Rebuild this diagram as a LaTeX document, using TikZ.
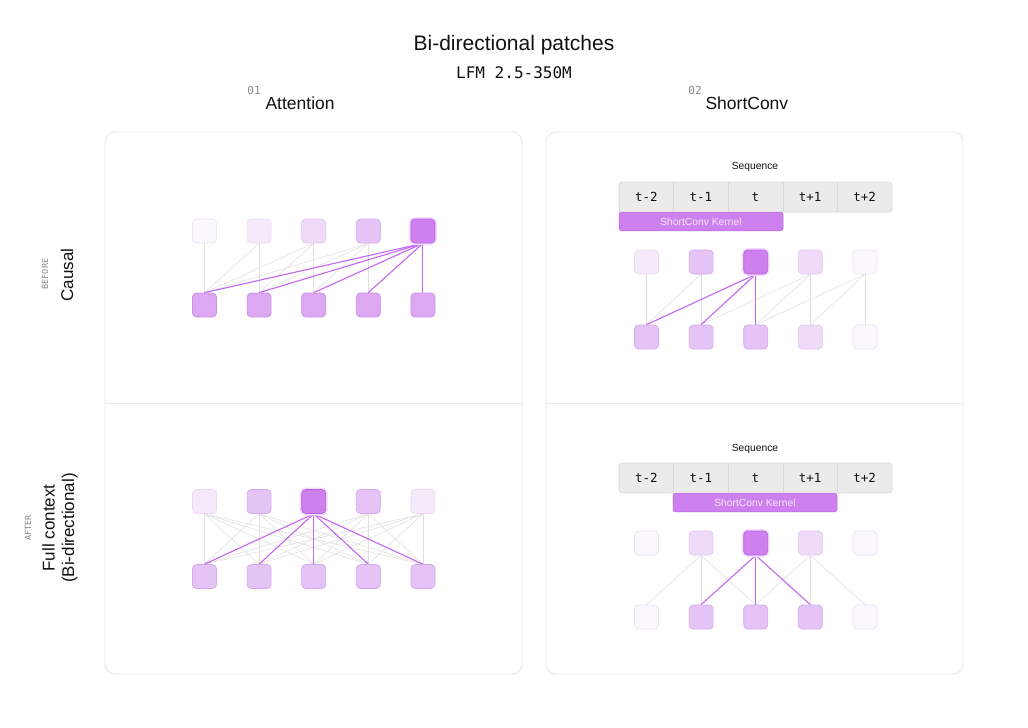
\documentclass[tikz,border=0pt]{standalone}
\usepackage{fontspec}
\setmainfont{Liberation Sans}
\setmonofont{DejaVu Sans Mono}
\usetikzlibrary{backgrounds}
\definecolor{panelgray}{HTML}{E6E6E6}
\definecolor{divgray}{HTML}{EBEBEB}
\definecolor{cA}{HTML}{FAF7FD}\definecolor{cAb}{HTML}{ECE4F2}
\definecolor{cB}{HTML}{F6EAFA}\definecolor{cBb}{HTML}{EBD9F3}
\definecolor{cC}{HTML}{F0DAFA}\definecolor{cCb}{HTML}{E2C6F0}
\definecolor{cD}{HTML}{E5C3F5}\definecolor{cDb}{HTML}{D5A8EE}
\definecolor{cE}{HTML}{DCA8F2}\definecolor{cEb}{HTML}{C990E8}
\definecolor{cH}{HTML}{CD80EE}\definecolor{cHb}{HTML}{B862E2}
\definecolor{glow}{HTML}{F3DDFC}
\definecolor{linegray}{HTML}{E0E0E0}
\definecolor{lineP}{HTML}{C466F2}
\definecolor{cellfill}{HTML}{EBEBEB}
\definecolor{cellline}{HTML}{D9D9D9}
\definecolor{kern}{HTML}{CD80EE}
\definecolor{kerntext}{HTML}{F7E6FF}
\definecolor{ink}{HTML}{111111}
\definecolor{subgray}{HTML}{888888}
\begin{document}
\begin{tikzpicture}[x=1pt,y=-1pt,
  panel/.style={draw=panelgray, line width=0.9pt, rounded corners=10pt},
  divider/.style={draw=divgray, line width=0.9pt},
  tok/.style={rectangle, rounded corners=4pt, minimum width=24pt, minimum height=24pt, inner sep=0pt, line width=0.7pt},
  vA/.style={tok, fill=cA, draw=cAb},
  vB/.style={tok, fill=cB, draw=cBb},
  vC/.style={tok, fill=cC, draw=cCb},
  vD/.style={tok, fill=cD, draw=cDb},
  vE/.style={tok, fill=cE, draw=cEb},
  hot/.style={tok, fill=cH, draw=cHb, preaction={draw=glow, line width=4pt}},
  gl/.style={draw=linegray, line width=0.6pt},
  pl/.style={draw=lineP, line width=1.1pt},
  cell/.style={rectangle, minimum width=54.6pt, minimum height=30pt, inner sep=0pt, font=\ttfamily\fontsize{12.5}{14}\selectfont, text=ink},
  bar/.style={fill=cellfill, draw=cellline, line width=0.7pt, rounded corners=3pt},
  celldiv/.style={draw=cellline, line width=0.7pt},
  kernel/.style={rectangle, fill=kern, draw=cHb, line width=0.5pt, rounded corners=2.5pt, minimum height=18.5pt, inner sep=0pt, font=\fontsize{10.3}{12}\selectfont, text=kerntext},
  seqlab/.style={font=\fontsize{10.3}{12}\selectfont, text=ink},
  head/.style={font=\fontsize{17.5}{20}\selectfont, text=ink, anchor=west},
  num/.style={font=\ttfamily\fontsize{11}{12}\selectfont, text=subgray},
  side/.style={rotate=90, font=\fontsize{17}{19.5}\selectfont, text=ink, align=center},
  sidesmall/.style={rotate=90, font=\ttfamily\fontsize{8.5}{10}\selectfont, text=subgray}
]
\useasboundingbox (0,0) rectangle (1028,728);

% titles
\node[font=\fontsize{21}{24}\selectfont, text=ink] (title) at (514,45) {Bi-directional patches};
\node[font=\ttfamily\fontsize{16}{18}\selectfont, text=ink] (model) at (514,73) {LFM 2.5-350M};
\node[num] (n01) at (254,90) {01};
\node[head] (hA) at (262,103) {Attention};
\node[num] (n02) at (695,90) {02};
\node[head] (hS) at (702,103) {ShortConv};

% side labels
\node[sidesmall] (before) at (45,274) {BEFORE};
\node[side] (causal) at (67,275) {Causal};
\node[sidesmall] (after) at (28,528) {AFTER};
\node[side] (full) at (60,528) {Full context\\(Bi-directional)};

% panels
\draw[panel] (105,132) rectangle (522,674);
\draw[panel] (546,132) rectangle (963,674);
\draw[divider] (105,403) -- (522,403);
\draw[divider] (546,403) -- (963,403);

% ---------- Attention, causal ----------
\foreach \i/\s in {1/vA,2/vB,3/vC,4/vD,5/hot}
  \node[\s] (LT\i) at ({204.5+54.6*(\i-1)},231) {};
\foreach \i in {1,...,5}
  \node[vE] (LB\i) at ({204.5+54.6*(\i-1)},305) {};

% ---------- Attention, full ----------
\foreach \i/\s in {1/vB,2/vD,3/hot,4/vD,5/vB}
  \node[\s] (AT\i) at ({204.5+54.6*(\i-1)},501.5) {};
\foreach \i in {1,...,5}
  \node[vD] (AB\i) at ({204.5+54.6*(\i-1)},576.5) {};

% ---------- ShortConv, causal ----------
\node[seqlab] (seqlabA) at (755,167) {Sequence};
\draw[bar] (619,182) rectangle (892,212);
\foreach \i/\t in {1/t-2,2/t-1,3/t,4/t+1,5/t+2}
  \node[cell] (SA\i) at ({619+27.3+54.6*(\i-1)},197) {\t};
\foreach \i in {1,...,4}
  \draw[celldiv] (SA\i.north east) -- (SA\i.south east);
\node[kernel, minimum width=164pt] (kerA) at (701,221.5) {ShortConv Kernel};
\foreach \i/\s in {1/vB,2/vD,3/hot,4/vC,5/vA}
  \node[\s] (RT\i) at ({646.5+54.6*(\i-1)},262) {};
\foreach \i/\s in {1/vD,2/vD,3/vD,4/vC,5/vA}
  \node[\s] (RB\i) at ({646.5+54.6*(\i-1)},337) {};

% ---------- ShortConv, centred ----------
\node[seqlab] (seqlabB) at (755,449) {Sequence};
\draw[bar] (619,463) rectangle (892,493);
\foreach \i/\t in {1/t-2,2/t-1,3/t,4/t+1,5/t+2}
  \node[cell] (SB\i) at ({619+27.3+54.6*(\i-1)},478) {\t};
\foreach \i in {1,...,4}
  \draw[celldiv] (SB\i.north east) -- (SB\i.south east);
\node[kernel, minimum width=164pt] (kerB) at (755,502.5) {ShortConv Kernel};
\foreach \i/\s in {1/vA,2/vC,3/hot,4/vC,5/vA}
  \node[\s] (ST\i) at ({646.5+54.6*(\i-1)},543) {};
\foreach \i/\s in {1/vA,2/vD,3/vD,4/vD,5/vA}
  \node[\s] (SBt\i) at ({646.5+54.6*(\i-1)},617) {};

% ---------- connectors ----------
\begin{scope}[on background layer]
  % causal attention
  \foreach \j in {1,...,4}
    \foreach \i in {1,...,\j}
      \draw[gl] (LT\j.south) -- (LB\i.north);
  \foreach \i in {1,...,5}
    \draw[pl] (LT5.south) -- (LB\i.north);
  % full attention
  \foreach \j in {1,2,4,5}
    \foreach \i in {1,...,5}
      \draw[gl] (AT\j.south) -- (AB\i.north);
  \foreach \i in {1,...,5}
    \draw[pl] (AT3.south) -- (AB\i.north);
  % causal shortconv
  \foreach \j/\i in {1/1,2/1,2/2,4/2,4/3,4/4,5/3,5/4,5/5}
    \draw[gl] (RT\j.south) -- (RB\i.north);
  \foreach \i in {1,2,3}
    \draw[pl] (RT3.south) -- (RB\i.north);
  % centred shortconv
  \foreach \j/\i in {2/1,2/2,2/3,4/3,4/4,4/5}
    \draw[gl] (ST\j.south) -- (SBt\i.north);
  \foreach \i in {2,3,4}
    \draw[pl] (ST3.south) -- (SBt\i.north);
\end{scope}
\end{tikzpicture}
\end{document}
